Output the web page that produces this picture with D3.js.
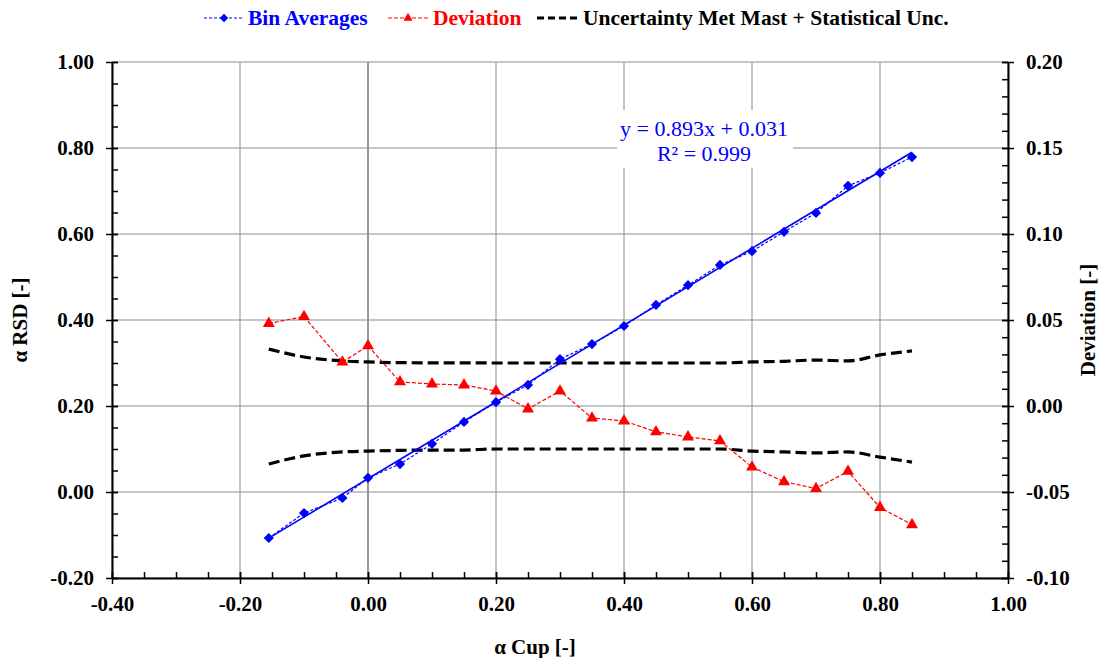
<!DOCTYPE html>
<html>
<head>
<meta charset="utf-8">
<script src="https://cdn.jsdelivr.net/npm/d3@7"></script>
<style>
  body { margin: 0; background: #fff; }
  svg { display: block; }
</style>
</head>
<body>
<div id="chart"></div>
<script>
// bin centres (alpha cup)
const xBins = [-0.155, -0.10, -0.04, 0.00, 0.05, 0.10, 0.15, 0.20, 0.25, 0.30, 0.35,
               0.40, 0.45, 0.50, 0.55, 0.60, 0.65, 0.70, 0.75, 0.80, 0.85];
// alpha RSD bin averages
const binAvg = [-0.107, -0.049, -0.014, 0.033, 0.065, 0.112, 0.163, 0.209, 0.249, 0.309, 0.344,
                0.386, 0.435, 0.481, 0.528, 0.560, 0.605, 0.649, 0.712, 0.742, 0.779];
// deviation (secondary axis)
const deviation = [0.048, 0.052, 0.0255, 0.035, 0.014, 0.0128, 0.0122, 0.0087, -0.0017, 0.0087, -0.007,
                   -0.0087, -0.015, -0.018, -0.0203, -0.0355, -0.044, -0.048, -0.038, -0.059, -0.069];
// uncertainty band (secondary axis)
const uncUpper = [0.0331, 0.0285, 0.0262, 0.0256, 0.0252, 0.0251, 0.0251, 0.025, 0.025, 0.025, 0.025,
                  0.025, 0.025, 0.025, 0.025, 0.0256, 0.026, 0.0267, 0.0262, 0.0297, 0.032];
const uncLower = [-0.0337, -0.029, -0.0267, -0.0262, -0.0258, -0.0256, -0.0256, -0.025, -0.025, -0.025, -0.025,
                  -0.025, -0.025, -0.025, -0.025, -0.0262, -0.0267, -0.0273, -0.0267, -0.0297, -0.0326];
const slope = 0.893, intercept = 0.031;

const xTicks = [-0.40, -0.20, 0.00, 0.20, 0.40, 0.60, 0.80, 1.00];
const yTicks = [-0.20, 0.00, 0.20, 0.40, 0.60, 0.80, 1.00];
const y2Ticks = [-0.10, -0.05, 0.00, 0.05, 0.10, 0.15, 0.20];

const FONT = '"Liberation Serif"';
const W = 1100, H = 658;
const margin = { top: 62, right: 92, bottom: 80, left: 112 };
const width = W - margin.left - margin.right;
const height = H - margin.top - margin.bottom;

const svg = d3.select("#chart").append("svg").attr("width", W).attr("height", H);
const g = svg.append("g").attr("transform", `translate(${margin.left},${margin.top})`);

const x = d3.scaleLinear().domain([-0.4, 1.0]).range([0, width]);
const y = d3.scaleLinear().domain([-0.2, 1.0]).range([height, 0]);
const y2 = d3.scaleLinear().domain([-0.1, 0.2]).range([height, 0]);

// grid
g.append("g").selectAll("line").data(xTicks).join("line")
  .attr("x1", d => x(d)).attr("x2", d => x(d)).attr("y1", 0).attr("y2", height)
  .attr("stroke", d => d === 0 ? "#333" : "#8c8c8c").attr("stroke-width", 1);
g.append("g").selectAll("line").data(yTicks).join("line")
  .attr("x1", 0).attr("x2", width).attr("y1", d => y(d)).attr("y2", d => y(d))
  .attr("stroke", "#8c8c8c").attr("stroke-width", 1);

// uncertainty
const uncLine = d3.line().curve(d3.curveMonotoneX).x((d, i) => x(xBins[i])).y(d => y2(d));
[uncUpper, uncLower].forEach(arr => {
  g.append("path").attr("d", uncLine(arr)).attr("fill", "none")
    .attr("stroke", "#000").attr("stroke-width", 3.2).attr("stroke-dasharray", "11,5");
});

// deviation
const devLine = d3.line().x((d, i) => x(xBins[i])).y(d => y2(d));
g.append("path").attr("d", devLine(deviation)).attr("fill", "none")
  .attr("stroke", "#ff0000").attr("stroke-width", 1.2).attr("stroke-dasharray", "4,2");
g.append("g").selectAll("path").data(deviation).join("path")
  .attr("d", d3.symbol(d3.symbolTriangle, 62))
  .attr("transform", (d, i) => `translate(${x(xBins[i])},${y2(d)})`)
  .attr("fill", "#ff0000");

// trendline
const tx = d3.extent(xBins);
g.append("line")
  .attr("x1", x(tx[0])).attr("y1", y(slope * tx[0] + intercept))
  .attr("x2", x(tx[1])).attr("y2", y(slope * tx[1] + intercept))
  .attr("stroke", "#0000ff").attr("stroke-width", 1.6);

// bin averages
const avgLine = d3.line().x((d, i) => x(xBins[i])).y(d => y(d));
g.append("path").attr("d", avgLine(binAvg)).attr("fill", "none")
  .attr("stroke", "#0000ff").attr("stroke-width", 1.2).attr("stroke-dasharray", "3,2");
g.append("g").selectAll("path").data(binAvg).join("path")
  .attr("d", d3.symbol(d3.symbolSquare, 52))
  .attr("transform", (d, i) => `translate(${x(xBins[i])},${y(d)}) rotate(45)`)
  .attr("fill", "#0000ff");

// equation label
g.append("rect").attr("x", 505).attr("y", 48).attr("width", 176).attr("height", 58).attr("fill", "#fff");
const eq = g.append("text").attr("text-anchor", "middle").attr("fill", "#0000ff")
  .style("font-family", FONT).style("font-size", "22px");
eq.append("tspan").attr("x", 592).attr("y", 74).text("y = 0.893x + 0.031");
eq.append("tspan").attr("x", 592).attr("y", 99).text("R² = 0.999");

// axes
const fmt = d => d3.format(".2f")(d).replace("−", "-");
const fmtAxis = (sel) => {
  sel.select(".domain").attr("stroke", "#000").attr("stroke-width", 2);
  sel.selectAll("text").attr("fill", "#000")
    .style("font-family", FONT).style("font-size", "21px").style("font-weight", "bold");
  sel.selectAll(".tick line").attr("stroke", "#000").attr("stroke-width", 1.5);
};

// minor ticks
g.append("g").attr("transform", `translate(0,${height})`)
  .call(d3.axisBottom(x).tickValues(d3.range(-0.4, 1.0001, 0.05)).tickSize(-6).tickFormat(""))
  .call(s => { s.select(".domain").remove(); s.selectAll("line").attr("stroke", "#000").attr("stroke-width", 1.5); });
g.append("g")
  .call(d3.axisLeft(y).tickValues(d3.range(-0.2, 1.0001, 0.05)).tickSize(-6).tickFormat(""))
  .call(s => { s.select(".domain").remove(); s.selectAll("line").attr("stroke", "#000").attr("stroke-width", 1.5); });
g.append("g").attr("transform", `translate(${width},0)`)
  .call(d3.axisRight(y2).tickValues(d3.range(-0.1, 0.2001, 0.01)).tickSize(-6).tickFormat(""))
  .call(s => { s.select(".domain").remove(); s.selectAll("line").attr("stroke", "#000").attr("stroke-width", 1.5); });

// major ticks
g.append("g").attr("transform", `translate(0,${height})`)
  .call(d3.axisBottom(x).tickValues(xTicks).tickFormat(fmt).tickSizeInner(6).tickSizeOuter(0).tickPadding(12))
  .call(s => s.selectAll(".tick line").attr("y1", -6))
  .call(fmtAxis);
g.append("g")
  .call(d3.axisLeft(y).tickValues(yTicks).tickFormat(fmt).tickSizeInner(6).tickSizeOuter(0).tickPadding(12))
  .call(s => s.selectAll(".tick line").attr("x1", 6))
  .call(fmtAxis);
g.append("g").attr("transform", `translate(${width},0)`)
  .call(d3.axisRight(y2).tickValues(y2Ticks).tickFormat(fmt).tickSizeInner(6).tickSizeOuter(0).tickPadding(12))
  .call(s => s.selectAll(".tick line").attr("x1", -6))
  .call(fmtAxis);

// axis titles
const title = (sel) => sel.style("font-family", FONT).style("font-size", "21px").style("font-weight", "bold")
  .attr("text-anchor", "middle").attr("fill", "#000");
svg.append("text").attr("x", 535).attr("y", 654).call(title).text("α Cup [-]");
svg.append("text").attr("transform", "translate(27,320) rotate(-90)").call(title).text("α RSD [-]");
svg.append("text").attr("transform", "translate(1095,320) rotate(-90)").call(title).text("Deviation [-]");

// legend
const legend = svg.append("g");
const items = [
  { label: "Bin Averages", color: "#0000ff", x0: 204, tx: 248, sym: d3.symbolSquare, rot: 45, dash: "3,2", w: 1.2 },
  { label: "Deviation", color: "#ff0000", x0: 388, tx: 433, sym: d3.symbolTriangle, rot: 0, dash: "4,2", w: 1.2 },
  { label: "Uncertainty Met Mast + Statistical Unc.", color: "#000", x0: 537, tx: 583, sym: null, rot: 0, dash: "7,4", w: 3.2 }
];
items.forEach(it => {
  legend.append("line").attr("x1", it.x0).attr("x2", it.x0 + 40).attr("y1", 18).attr("y2", 18)
    .attr("stroke", it.color).attr("stroke-width", it.w).attr("stroke-dasharray", it.dash);
  if (it.sym) legend.append("path").attr("d", d3.symbol(it.sym, 36))
    .attr("transform", `translate(${it.x0 + 20},18) rotate(${it.rot})`).attr("fill", it.color);
  legend.append("text").attr("x", it.tx).attr("y", 25).attr("fill", it.color)
    .style("font-family", FONT).style("font-size", "21.5px").style("font-weight", "bold").text(it.label);
});
</script>
</body>
</html>
